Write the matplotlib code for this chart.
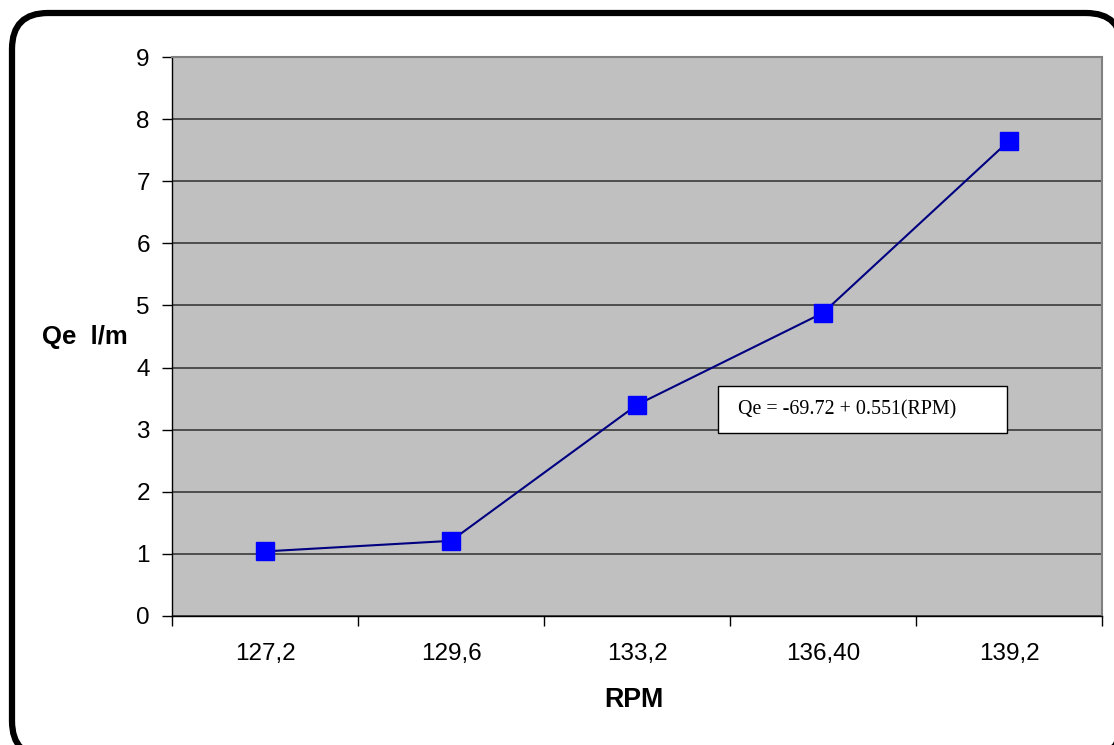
import matplotlib
matplotlib.use("Agg")
import matplotlib.pyplot as plt
from matplotlib.patches import FancyBboxPatch, Rectangle
from matplotlib.transforms import IdentityTransform

# speed categories and measured flow
rpm_labels = ["127,2", "129,6", "133,2", "136,40", "139,2"]
qe_values = [1.04, 1.21, 3.40, 4.88, 7.65]
y_ticks = [0, 1, 2, 3, 4, 5, 6, 7, 8, 9]
equation = "Qe = -69.72 + 0.551(RPM)"

plt.rcParams["font.family"] = ["Liberation Sans", "DejaVu Sans"]

W, H = 1114, 745
fig = plt.figure(figsize=(W / 100, H / 100), dpi=100)
ax = fig.add_axes([172 / W, 1 - 616 / H, 930 / W, 559 / H])
ax.set_facecolor("#C0C0C0")

x = list(range(len(rpm_labels)))
ax.plot(x, qe_values, color="#000080", lw=1.5, marker="s", markersize=13,
        markerfacecolor="#0000FF", markeredgecolor="#0000FF", zorder=3)

ax.set_ylim(0, 9)
ax.set_yticks(y_ticks)
ax.set_xlim(-0.5, len(rpm_labels) - 0.5)
ax.set_xticks([i - 0.5 for i in range(len(rpm_labels) + 1)])
ax.set_xticklabels([])
ax.set_xticks(x, minor=True)
ax.set_xticklabels(rpm_labels, minor=True)
ax.tick_params(axis="x", which="minor", length=0, pad=19.5, labelsize=17.5)
ax.tick_params(axis="x", which="major", length=7, width=1, direction="out")
ax.tick_params(axis="y", length=7, width=1, direction="out", pad=9, labelsize=17.5)

ax.yaxis.grid(True, color="#3a3a3a", lw=1.2)
ax.set_axisbelow(True)
for side in ["top", "right"]:
    ax.spines[side].set_color("#808080")
    ax.spines[side].set_linewidth(1.5)
for side in ["left", "bottom"]:
    ax.spines[side].set_color("black")
    ax.spines[side].set_linewidth(1)

# equation box (left edge 718px, right 1007px, top 386px, bottom 433px)
bx0 = (718 - 172) / 930
bx1 = (1007 - 172) / 930
by0 = (616 - 433) / 559
by1 = (616 - 386) / 559
ax.add_patch(Rectangle((bx0, by0), bx1 - bx0, by1 - by0, transform=ax.transAxes,
                       facecolor="white", edgecolor="black", lw=1, zorder=4))
ax.text((738 - 172) / 930, (by0 + by1) / 2, equation, transform=ax.transAxes,
        fontsize=14.4, family=["Liberation Serif", "DejaVu Serif"],
        va="center", ha="left", zorder=5)

fig.text(85 / W, 1 - 337 / H, "Qe  l/m", fontsize=18.5, fontweight="bold",
         ha="center", va="center")
fig.text(634 / W, 1 - 700 / H, "RPM", fontsize=19.3, fontweight="bold",
         ha="center", va="center")

# rounded outer frame, running just past the right and bottom edges;
# filled white behind everything so agg does not clip the curved corners
frame = FancyBboxPatch((12, -12), 1110, H - 13 + 12,
                       boxstyle="round,pad=0,rounding_size=36",
                       transform=IdentityTransform(), facecolor="white",
                       edgecolor="black", lw=4.5, zorder=-5)
fig.patches.append(frame)

fig.savefig("out.png", dpi=100)
